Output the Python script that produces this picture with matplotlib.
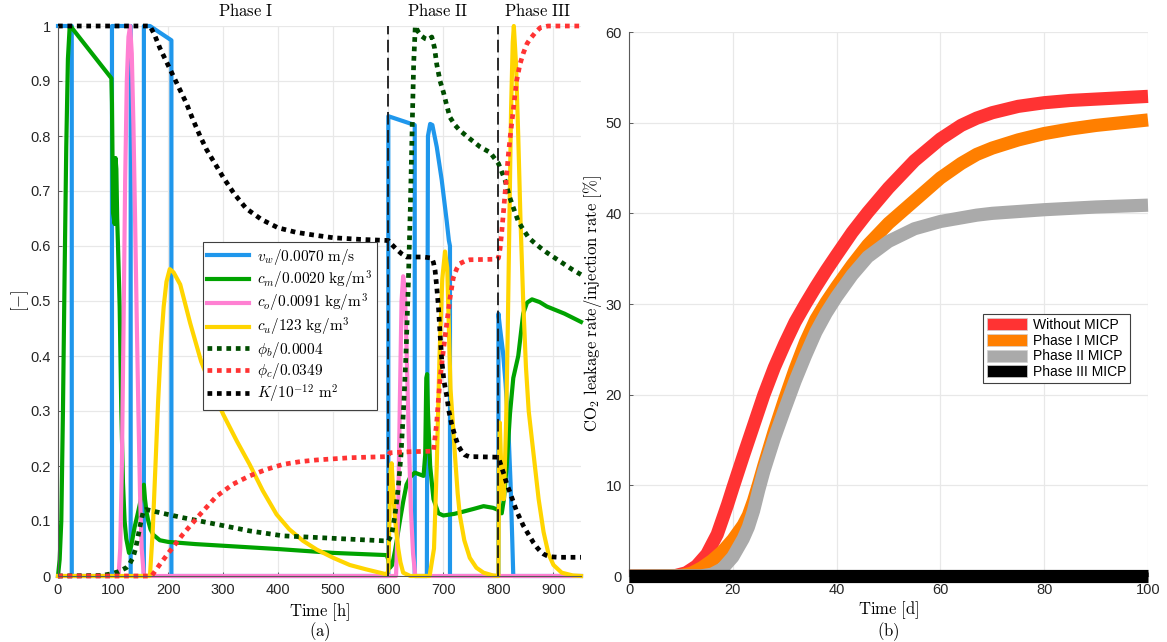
import numpy as np
import matplotlib
matplotlib.use("Agg")
import matplotlib.pyplot as plt
from matplotlib.patches import Patch
from matplotlib.lines import Line2D

plt.rcParams['mathtext.fontset'] = 'cm'
plt.rcParams['font.family'] = ['Liberation Sans', 'DejaVu Sans']

# ---------------- Panel (a) data ----------------
vw_t = [0, 25, 25, 98, 98, 132, 132, 156, 156, 167, 206, 206, 600, 600, 648, 648, 670, 672, 676, 680,
        688, 697, 706, 710, 712, 712, 800, 800, 803, 808, 813, 818, 822, 825, 827, 950]
vw_v = [1, 1, 0, 0, 1, 1, 0, 0, 1, 1, 0.974, 0, 0, 0.836, 0.82, 0, 0, 0.80, 0.822, 0.82,
        0.78, 0.72, 0.646, 0.61, 0.60, 0, 0, 0.477, 0.45, 0.41, 0.35, 0.27, 0.17, 0.07, 0, 0]

cm_t = [0, 3, 6, 9, 12, 15, 18, 21, 22.5, 97, 98, 100, 103, 104.5, 106, 107.5, 109, 112, 115, 118, 121,
        124, 129, 133, 139, 145, 152, 156, 158, 161, 164, 168, 173, 185, 200, 250, 300, 400, 500, 597,
        600, 603, 607, 612, 617, 621, 627, 633, 640, 648, 656, 664, 667, 669, 670.5, 672, 676, 682, 691,
        700, 720, 736, 755, 773, 790, 800, 806, 810, 815, 821, 827, 836, 845, 852, 861, 875, 888, 920, 950]
cm_v = [0, 0.03, 0.1, 0.3, 0.55, 0.78, 0.94, 0.995, 1.0, 0.905, 0.86, 0.66, 0.64, 0.76, 0.74, 0.65,
        0.6, 0.49, 0.3, 0.17, 0.1, 0.068, 0.042, 0.055, 0.088, 0.114, 0.146, 0.166, 0.14, 0.115, 0.1,
        0.085, 0.075, 0.065, 0.062, 0.058, 0.055, 0.049, 0.042, 0.038, 0.03, 0.015, 0.02, 0.045, 0.075,
        0.1, 0.135, 0.166, 0.18, 0.188, 0.185, 0.182, 0.22, 0.36, 0.367, 0.3, 0.2, 0.14, 0.114, 0.11,
        0.113, 0.117, 0.122, 0.127, 0.124, 0.12, 0.114, 0.14, 0.2, 0.295, 0.36, 0.40, 0.477, 0.497,
        0.503, 0.498, 0.49, 0.477, 0.462]

co_t = [0, 110, 113, 116, 119, 122, 125, 128, 131, 134, 137, 140, 143, 146, 149, 152, 156,
        614, 618, 621, 624, 627, 630, 633, 637, 641, 645, 649, 950]
co_v = [0, 0, 0.05, 0.2, 0.45, 0.72, 0.9, 0.98, 1.0, 0.95, 0.82, 0.65, 0.47, 0.3, 0.15, 0.05, 0,
        0, 0.12, 0.32, 0.5, 0.545, 0.52, 0.42, 0.26, 0.12, 0.04, 0, 0]

cu_t = [0, 167, 172, 177, 182, 187, 192, 197, 203, 210, 222, 240, 260, 280, 300, 325, 348, 372, 397,
        420, 445, 470, 500, 530, 560, 597, 600, 602, 604, 606, 608, 611, 614, 618, 622, 627, 640, 675,
        683, 688, 693, 698, 703, 707, 710, 713, 717, 721, 726, 730, 738, 748, 760, 773, 790, 800, 801,
        802.5, 805, 808, 810, 814, 817, 820, 823, 826, 828, 832, 836, 840, 845, 850, 855, 864, 873,
        882, 891, 900, 915, 935, 950]
cu_v = [0, 0, 0.08, 0.2, 0.32, 0.42, 0.49, 0.535, 0.558, 0.552, 0.53, 0.46, 0.39, 0.34, 0.294, 0.245,
        0.203, 0.155, 0.112, 0.085, 0.064, 0.048, 0.033, 0.02, 0.012, 0.003, 0.01, 0.1, 0.19, 0.205,
        0.17, 0.12, 0.085, 0.05, 0.025, 0.006, 0, 0, 0.05, 0.2, 0.4, 0.54, 0.59, 0.56, 0.45, 0.34, 0.28,
        0.22, 0.15, 0.11, 0.065, 0.033, 0.015, 0.006, 0.001, 0, 0.2, 0.279, 0.2, 0.14, 0.14, 0.28, 0.45,
        0.65, 0.85, 0.97, 1.0, 0.93, 0.8, 0.65, 0.5, 0.38, 0.3, 0.22, 0.14, 0.08, 0.04, 0.02, 0.006,
        0.001, 0]

phib_t = [0, 80, 97, 110, 124, 130, 136, 141, 145, 150, 155, 160, 190, 227, 288, 348, 409, 470, 530,
          591, 600, 606, 612, 618, 623, 628, 632, 636, 640, 643, 646, 649, 654, 660, 667, 673, 679, 684,
          688, 694, 700, 706, 712, 721, 730, 748, 767, 785, 800, 806, 812, 820, 827, 836, 845, 855, 864,
          876, 888, 903, 918, 933, 950]
phib_v = [0, 0.001, 0.004, 0.008, 0.015, 0.022, 0.033, 0.05, 0.07, 0.095, 0.118, 0.121, 0.114, 0.106,
          0.094, 0.082, 0.073, 0.07, 0.067, 0.064, 0.064, 0.075, 0.11, 0.16, 0.22, 0.31, 0.4, 0.52,
          0.67, 0.8, 0.93, 1.0, 0.99, 0.982, 0.977, 0.975, 0.98, 0.96, 0.93, 0.9, 0.88, 0.856, 0.834,
          0.82, 0.81, 0.795, 0.78, 0.77, 0.75, 0.735, 0.72, 0.69, 0.67, 0.645, 0.63, 0.615, 0.607,
          0.597, 0.588, 0.578, 0.568, 0.558, 0.548]

phic_t = [0, 170, 185, 203, 227, 258, 288, 318, 348, 379, 409, 440, 470, 500, 530, 560, 597, 600, 603,
          640, 682, 688, 694, 700, 706, 712, 718, 724, 730, 740, 748, 797, 800, 803, 806, 809, 812, 815,
          818, 821, 824, 827, 830, 833, 839, 845, 852, 858, 867, 876, 890, 920, 950]
phic_v = [0, 0, 0.021, 0.045, 0.076, 0.112, 0.145, 0.167, 0.182, 0.194, 0.203, 0.208, 0.211, 0.213,
          0.215, 0.216, 0.217, 0.22, 0.224, 0.226, 0.227, 0.28, 0.36, 0.41, 0.458, 0.505, 0.542, 0.558,
          0.568, 0.573, 0.575, 0.576, 0.578, 0.595, 0.625, 0.66, 0.695, 0.73, 0.765, 0.795, 0.822,
          0.847, 0.875, 0.9, 0.93, 0.95, 0.968, 0.977, 0.988, 0.997, 1.0, 1.0, 1.0]

K_t = [0, 167, 175, 185, 197, 209, 221, 233, 245, 258, 270, 282, 300, 320, 342, 370, 400, 432, 464,
       500, 550, 600, 606, 615, 624, 633, 645, 664, 679, 682, 685, 688, 691, 694, 697, 701, 706, 710,
       715, 721, 727, 733, 739, 747, 755, 800, 805, 810, 815, 821, 827, 833, 839, 845, 852, 858, 864,
       870, 876, 882, 888, 894, 910, 950]
K_v = [1, 1, 0.985, 0.96, 0.935, 0.91, 0.885, 0.86, 0.83, 0.80, 0.775, 0.755, 0.725, 0.695, 0.668,
       0.648, 0.633, 0.625, 0.62, 0.615, 0.612, 0.61, 0.603, 0.594, 0.586, 0.58, 0.58, 0.58, 0.578,
       0.57, 0.555, 0.525, 0.49, 0.44, 0.393, 0.355, 0.328, 0.3, 0.276, 0.255, 0.237, 0.227, 0.22,
       0.217, 0.217, 0.216, 0.2, 0.185, 0.168, 0.152, 0.135, 0.118, 0.105, 0.092, 0.08, 0.07, 0.06,
       0.052, 0.045, 0.04, 0.037, 0.035, 0.034, 0.034]

phase_bounds = [600, 800]
phase_labels = ['Phase I', 'Phase II', 'Phase III']
phase_label_t = [340, 690, 872]

legend_a = [r'$v_w/0.0070\ \mathrm{m/s}$', r'$c_m/0.0020\ \mathrm{kg/m^3}$',
            r'$c_o/0.0091\ \mathrm{kg/m^3}$', r'$c_u/123\ \mathrm{kg/m^3}$',
            r'$\phi_b/0.0004$', r'$\phi_c/0.0349$', r'$K/10^{-12}\ \mathrm{m^2}$']

# ---------------- Panel (b) data ----------------
red_t = [0, 9, 11, 13, 15, 17, 19, 20, 22, 24, 26, 28, 30, 32, 34, 36, 38, 40, 43, 46, 50, 55, 60,
         64, 67, 70, 75, 80, 85, 90, 100]
red_v = [0, 0.05, 0.35, 1.1, 2.4, 4.6, 7.9, 9.7, 13.2, 16.6, 20.0, 23.0, 25.6, 28.0, 30.0, 31.9,
         33.7, 35.4, 37.9, 40.1, 42.8, 45.8, 48.2, 49.7, 50.5, 51.1, 51.8, 52.2, 52.45, 52.6, 52.9]

orange_t = [0, 10, 12, 14, 16, 18, 20, 22, 23, 24, 25, 26, 28, 30, 32, 34, 36, 38, 40, 43, 46, 50, 53,
            57, 60, 64, 67, 70, 75, 80, 85, 90, 100]
orange_v = [0, 0.05, 0.3, 0.9, 1.7, 2.7, 4.0, 5.6, 6.7, 8.3, 10.2, 12.2, 16.0, 19.5, 22.8, 25.8,
            28.3, 30.2, 31.9, 34.3, 36.5, 38.9, 40.4, 42.4, 43.9, 45.5, 46.5, 47.2, 48.1, 48.8, 49.3,
            49.7, 50.3]

grey_t = [0, 14, 16, 18, 20, 22, 23, 24, 25, 26, 28, 30, 32, 34, 36, 38, 40, 43, 46, 50, 55, 60, 64,
          67, 70, 75, 80, 85, 90, 100]
grey_v = [0, 0.02, 0.2, 0.8, 2.1, 4.1, 5.4, 7.2, 9.5, 11.6, 15.2, 18.4, 21.5, 24.3, 26.9, 29.0,
          30.8, 33.2, 35.2, 36.9, 38.3, 39.1, 39.5, 39.8, 40.0, 40.2, 40.4, 40.55, 40.7, 40.9]

black_t = [0, 100]
black_v = [0, 0]

legend_b = ['Without MICP', 'Phase I MICP', 'Phase II MICP', 'Phase III MICP']

# ---------------- Styling ----------------
c_vw, c_cm, c_co, c_cu = '#1f97ec', '#00a300', '#ff80d2', '#ffd500'
c_phib, c_phic, c_K = '#004d00', '#ff3333', '#000000'
c_red, c_orange, c_grey, c_black = '#ff3333', '#ff7f00', '#aaaaaa', '#000000'
grid_c = '#e8e8e8'
spine_c = '#5a5a5a'

fig = plt.figure(figsize=(11.67, 6.42), dpi=100)
axa = fig.add_axes([58/1167, 66/642, 523/1167, 550/642])
axb = fig.add_axes([629/1167, 66/642, 519/1167, 544/642])

for ax in (axa, axb):
    ax.set_axisbelow(True)
    ax.grid(True, color=grid_c, lw=0.9)
    for s in ('top', 'right'):
        ax.spines[s].set_visible(False)
    for s in ('left', 'bottom'):
        ax.spines[s].set_color(spine_c)
        ax.spines[s].set_linewidth(0.8)
    ax.tick_params(direction='in', length=3, width=0.7, color=spine_c,
                   labelsize=10.5, labelcolor='#262626', pad=5)

lw_s = 3.0
lw_d = 3.4
dots = (1, 1)
axa.plot(vw_t, vw_v, color=c_vw, lw=lw_s, clip_on=False)
axa.plot(cm_t, cm_v, color=c_cm, lw=lw_s, clip_on=False)
axa.plot(co_t, co_v, color=c_co, lw=lw_s, clip_on=False)
axa.plot(cu_t, cu_v, color=c_cu, lw=lw_s, clip_on=False)
axa.plot(phib_t, phib_v, color=c_phib, lw=lw_d, dashes=dots, clip_on=False)
axa.plot(phic_t, phic_v, color=c_phic, lw=lw_d, dashes=dots, clip_on=False)
axa.plot(K_t, K_v, color=c_K, lw=lw_d, dashes=dots, clip_on=False)
for b in phase_bounds:
    axa.axvline(b, color='#1a1a1a', lw=1.3, dashes=(7, 3), zorder=5)
for lab, tx in zip(phase_labels, phase_label_t):
    axa.text(tx, 1.012, r'$\mathrm{' + lab.replace(' ', r'\ ') + '}$', ha='center', va='bottom',
             fontsize=12, transform=axa.get_xaxis_transform())

axa.set_xlim(0, 950)
axa.set_ylim(0, 1)
axa.set_xticks(np.arange(0, 901, 100))
axa.set_yticks(np.arange(0, 1.01, 0.1))
axa.set_yticklabels(['0'] + ['%.1f' % v for v in np.arange(0.1, 0.95, 0.1)] + ['1'])
axa.set_xlabel(r'$\mathrm{Time\ [h]}$', fontsize=12, labelpad=3)
axa.set_ylabel(r'$[-]$', fontsize=12, labelpad=0)
fig.text((58 + 523 / 2) / 1167, 10 / 642, r'$\mathrm{(a)}$', ha='center', va='center', fontsize=12)

handles_a = [Line2D([], [], color=c_vw, lw=lw_s), Line2D([], [], color=c_cm, lw=lw_s),
             Line2D([], [], color=c_co, lw=lw_s), Line2D([], [], color=c_cu, lw=lw_s),
             Line2D([], [], color=c_phib, lw=lw_d, dashes=dots),
             Line2D([], [], color=c_phic, lw=lw_d, dashes=dots),
             Line2D([], [], color=c_K, lw=lw_d, dashes=dots)]
leg = axa.legend(handles_a, legend_a, loc='upper left', bbox_to_anchor=(0.277, 0.607),
                 fontsize=11, frameon=True, fancybox=False, framealpha=1, edgecolor='#404040',
                 handlelength=2.75, handletextpad=0.5, labelspacing=0.1, borderpad=0.3,
                 borderaxespad=0)
leg.get_frame().set_linewidth(0.8)
leg.set_zorder(10)

lw_b = 9.5
axb.plot(red_t, red_v, color=c_red, lw=lw_b, solid_capstyle='butt', clip_on=False)
axb.plot(orange_t, orange_v, color=c_orange, lw=lw_b, solid_capstyle='butt', clip_on=False)
axb.plot(grey_t, grey_v, color=c_grey, lw=lw_b, solid_capstyle='butt', clip_on=False)
axb.plot(black_t, black_v, color=c_black, lw=lw_b, solid_capstyle='butt', clip_on=False, zorder=4)
axb.set_xlim(0, 100)
axb.set_ylim(0, 60)
axb.set_xticks(np.arange(0, 101, 20))
axb.set_yticks(np.arange(0, 61, 10))
axb.set_xlabel(r'$\mathrm{Time\ [d]}$', fontsize=12, labelpad=2)
axb.set_ylabel(r'$\mathrm{CO_2\ leakage\ rate/injection\ rate\ [\%]}$', fontsize=12, labelpad=1)
fig.text((629 + 519 / 2) / 1167, 10 / 642, r'$\mathrm{(b)}$', ha='center', va='center', fontsize=12)

handles_b = [Patch(facecolor=c, edgecolor='#d0d0d0', lw=0.5) for c in (c_red, c_orange, c_grey, c_black)]
legb = axb.legend(handles_b, legend_b, loc='upper left', bbox_to_anchor=(0.682, 0.482),
                  fontsize=10, frameon=True, fancybox=False, framealpha=1, edgecolor='#404040',
                  handlelength=2.9, handleheight=0.95, handletextpad=0.4, labelspacing=0.12,
                  borderpad=0.3, borderaxespad=0)
legb.get_frame().set_linewidth(0.8)

fig.savefig('out.png', dpi=100)
